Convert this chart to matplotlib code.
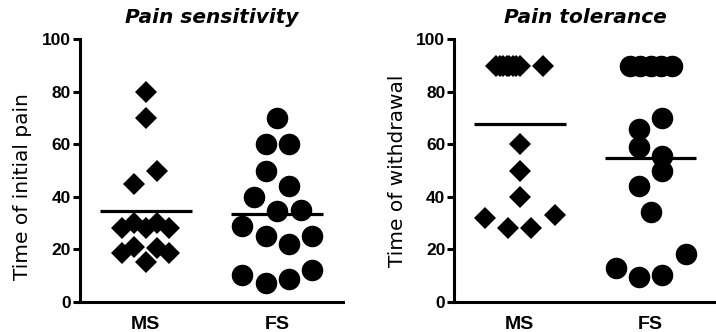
import matplotlib
matplotlib.use("Agg")
import matplotlib.pyplot as plt
import numpy as np

plt.rcParams['font.family'] = ['Liberation Sans', 'DejaVu Sans']

# --- Data ---
groups = ["MS", "FS"]

# Pain sensitivity: time of initial pain
sens_ms = [80, 70, 50, 45, 28, 30, 28, 30, 28, 18.5, 21, 15.3, 20.4, 18.5]
sens_ms_col = [0, 0, 1, -1, -2, -1, 0, 1, 2, -2, -1, 0, 1, 2]
sens_fs = [70, 60, 60, 50, 44, 40, 34.6, 35, 29, 25, 22, 25, 10, 7, 8.5, 12]
sens_fs_col = [0, -1, 1, -1, 1, -2, 0, 2, -3, -1, 1, 3, -3, -1, 1, 3]

# Pain tolerance: time of withdrawal
tol_ms = [90, 90, 90, 90, 90, 90, 90, 90, 90, 60, 50, 40, 32, 28, 28, 33]
tol_ms_col = [-2, -1.7, -1.4, -1.1, -0.9, -0.6, -0.3, 0, 2, 0, 0, 0, -3, -1, 1, 3]
tol_fs = [90, 90, 90, 90, 90, 70, 66, 59, 55.5, 50, 44, 34, 18, 12.7, 9.3, 10.2]
tol_fs_col = [-1.8, -0.9, 0, 0.9, 1.8, 1, -1, -1, 1, 1, -1, 0, 3, -3, -1, 1]

titles = ["Pain sensitivity", "Pain tolerance"]
ylabels = ["Time of initial pain", "Time of withdrawal"]
yticks = [0, 20, 40, 60, 80, 100]

SLOT = 0.089      # horizontal spacing of stacked points (data units)
HALF = 0.35       # half-length of the mean bar

fig = plt.figure(figsize=(7.16, 3.32), dpi=100)
ax1 = fig.add_axes([80 / 716, 30.3 / 332, 263 / 716, 262.4 / 332])
ax2 = fig.add_axes([454.3 / 716, 30.3 / 332, 261.7 / 716, 262.4 / 332])

panels = [
    (ax1, [(sens_ms, sens_ms_col), (sens_fs, sens_fs_col)]),
    (ax2, [(tol_ms, tol_ms_col), (tol_fs, tol_fs_col)]),
]

for i, (ax, series) in enumerate(panels):
    for g, (vals, cols) in enumerate(series):
        xpos = g + 1
        xs = xpos + np.array(cols) * SLOT
        if g == 0:
            ax.plot(xs, vals, linestyle='none', marker='D', markersize=11,
                    color='black', markeredgewidth=0, clip_on=False)
        else:
            ax.plot(xs, vals, linestyle='none', marker='o', markersize=15.5,
                    color='black', markeredgewidth=0, clip_on=False)
        ax.plot([xpos - HALF, xpos + HALF], [np.mean(vals)] * 2,
                color='black', linewidth=2.3, solid_capstyle='butt')

    ax.set_xlim(0.5, 2.5)
    ax.set_ylim(0, 100)
    ax.set_yticks(yticks)
    ax.set_yticklabels([str(t) for t in yticks], fontsize=12.5, fontweight='bold')
    ax.set_xticks([1, 2])
    ax.set_xticklabels(groups, fontsize=14, fontweight='bold')
    ax.tick_params(axis='y', length=5, width=2.2, pad=1.5)
    ax.tick_params(axis='x', length=0, pad=10)
    for side in ['top', 'right']:
        ax.spines[side].set_visible(False)
    for side in ['left', 'bottom']:
        ax.spines[side].set_linewidth(2.2)
    ax.set_title(titles[i], fontsize=14.5, fontweight='bold', style='italic',
                 pad=11.5, family=['DejaVu Sans'])
    ax.set_ylabel(ylabels[i], fontsize=14.5, labelpad=7, family=['DejaVu Sans'])

# the left label sits a little below the axis centre in the original
ax1.yaxis.label.set_y(0.44)

fig.savefig("out.png", dpi=100)
